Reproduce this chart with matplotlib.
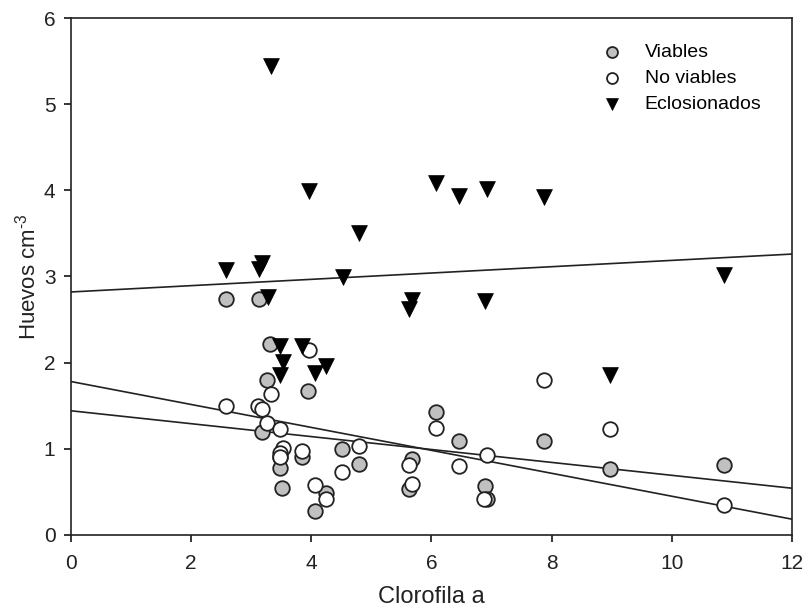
import matplotlib
matplotlib.use("Agg")
import matplotlib.pyplot as plt
import numpy as np

plt.rcParams['font.family'] = ['Liberation Sans', 'DejaVu Sans']
plt.rcParams['mathtext.fontset'] = 'custom'
plt.rcParams['mathtext.rm'] = 'Liberation Sans'

# Viables (grey circles)
viables_x = [2.59, 3.13, 3.32, 3.27, 3.95, 3.19, 3.48, 3.49, 3.52, 3.85, 4.06, 4.25,
             4.52, 4.80, 5.67, 5.62, 6.08, 6.46, 6.89, 6.93, 7.87, 8.97, 10.87]
viables_y = [2.74, 2.74, 2.22, 1.80, 1.67, 1.19, 0.90, 0.77, 0.54, 0.90, 0.28, 0.48,
             0.99, 0.82, 0.88, 0.53, 1.42, 1.09, 0.57, 0.41, 1.09, 0.76, 0.81]

# No viables (white circles)
noviables_x = [2.59, 3.12, 3.19, 3.33, 3.97, 3.27, 3.48, 3.53, 3.48, 3.48, 3.84, 4.06,
               4.25, 4.52, 4.80, 5.62, 5.67, 6.08, 6.46, 6.88, 6.93, 7.87, 8.97, 10.87]
noviables_y = [1.49, 1.50, 1.46, 1.64, 2.15, 1.30, 1.23, 1.01, 0.95, 0.90, 0.97, 0.58,
               0.41, 0.73, 1.03, 0.81, 0.59, 1.24, 0.80, 0.41, 0.93, 1.80, 1.23, 0.34]

# Eclosionados (black triangles)
eclos_x = [2.59, 3.13, 3.19, 3.33, 3.28, 3.48, 3.53, 3.48, 3.84, 3.96, 4.06, 4.25,
           4.53, 4.80, 5.63, 5.67, 6.08, 6.46, 6.89, 6.93, 7.87, 8.97, 10.87]
eclos_y = [3.07, 3.09, 3.16, 5.45, 2.76, 2.19, 2.01, 1.86, 2.19, 3.99, 1.88, 1.96,
           2.99, 3.51, 2.62, 2.73, 4.09, 3.94, 2.71, 4.02, 3.92, 1.85, 3.02]

# fitted lines (intercept, slope)
fit_eclos = (2.82, 0.0367)
fit_a = (1.78, -0.1333)
fit_b = (1.44, -0.075)

fig = plt.figure(figsize=(8.04, 6.09), dpi=100)
ax = fig.add_axes([0.088, 0.122, 0.897, 0.848])

xx = np.array([0, 12])
for b0, b1 in [fit_eclos, fit_a, fit_b]:
    ax.plot(xx, b0 + b1 * xx, color='#222222', lw=1.2, zorder=2)

ax.scatter(viables_x, viables_y, s=110, facecolor='#c0c0c0', edgecolor='#222222',
           linewidth=1.3, label='Viables', zorder=3)
ax.scatter(noviables_x, noviables_y, s=110, facecolor='white', edgecolor='#222222',
           linewidth=1.3, label='No viables', zorder=4)
ax.scatter(eclos_x, eclos_y, s=130, marker='v', facecolor='black', edgecolor='black',
           linewidth=0.5, label='Eclosionados', zorder=5)

ax.set_xlim(0, 12)
ax.set_ylim(0, 6)
ax.set_xticks(range(0, 13, 2))
ax.set_yticks(range(0, 7))
ax.tick_params(direction='out', length=5, width=1.1, labelsize=15,
               top=False, right=False, labelcolor='#222222')
ax.tick_params(axis='x', pad=9)
ax.tick_params(axis='y', pad=6)
for sp in ax.spines.values():
    sp.set_linewidth(1.2)
    sp.set_color('#222222')

ax.set_xlabel('Clorofila a', fontsize=17, labelpad=9, color='#222222')
ax.set_ylabel(r'Huevos cm$^{\text{-3}}$', fontsize=16, labelpad=2, color='#222222')

leg = ax.legend(loc='upper right', frameon=False, fontsize=14, markerscale=0.75,
                handletextpad=0.7, labelspacing=0.42, bbox_to_anchor=(0.982, 0.985))

fig.savefig('out.png', dpi=100)
